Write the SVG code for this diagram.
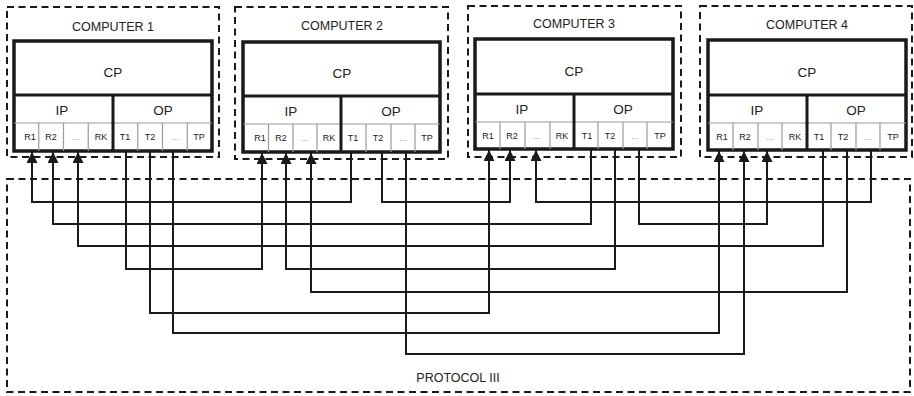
<svg xmlns="http://www.w3.org/2000/svg" width="914" height="396" viewBox="0 0 914 396">
<style>
.dash{fill:none;stroke:#1a1a1a;stroke-width:2;stroke-dasharray:7 4.5}
.outer{fill:#fff;stroke:#1a1a1a;stroke-width:3.5}
.thick{stroke:#1a1a1a;stroke-width:3}
.thin{stroke:#9a9a9a;stroke-width:1.2}
.title{font-family:"Liberation Sans",Arial,sans-serif;font-size:12.5px;fill:#222;text-anchor:middle}
.big{font-family:"Liberation Sans",Arial,sans-serif;font-size:13.5px;fill:#222;text-anchor:middle}
.cell{font-family:"Liberation Sans",Arial,sans-serif;font-size:9px;fill:#222;text-anchor:middle}
.dots{font-family:"Liberation Sans",Arial,sans-serif;font-size:9px;fill:#999;text-anchor:middle}
.conn{fill:none;stroke:#1a1a1a;stroke-width:2;stroke-linejoin:miter}
</style>
<defs>
<marker id="arr" viewBox="0 0 12 12" refX="12" refY="6" markerWidth="12" markerHeight="11" markerUnits="userSpaceOnUse" orient="auto">
<path d="M0,0 L12,6 L0,12 z" fill="#1a1a1a"/>
</marker>
</defs>
<rect width="914" height="396" fill="#fff"/>

<g id="protocol">
<rect class="dash" x="7" y="179" width="903" height="213"/>
<text class="title" x="458" y="382">PROTOCOL III</text>
</g>

<g id="computer1">
<rect class="dash" x="7" y="7" width="212" height="150"/>
<text class="title" x="113" y="31">COMPUTER 1</text>
<rect class="outer" x="14" y="41" width="198" height="110"/>
<line class="thin" x1="14" y1="123" x2="212" y2="123"/>
<line class="thin" x1="38.75" y1="123" x2="38.75" y2="151"/>
<line class="thin" x1="63.5" y1="123" x2="63.5" y2="151"/>
<line class="thin" x1="88.25" y1="123" x2="88.25" y2="151"/>
<line class="thin" x1="137.75" y1="123" x2="137.75" y2="151"/>
<line class="thin" x1="162.5" y1="123" x2="162.5" y2="151"/>
<line class="thin" x1="187.25" y1="123" x2="187.25" y2="151"/>
<line class="thick" x1="14" y1="95" x2="212" y2="95"/>
<line class="thick" x1="113" y1="95" x2="113" y2="151"/>
<text class="big" x="113" y="77">CP</text>
<text class="big" x="62" y="115">IP</text>
<text class="big" x="163" y="115">OP</text>
<text class="cell" x="30" y="140">R1</text>
<text class="cell" x="51" y="140">R2</text>
<text class="dots" x="76" y="140">...</text>
<text class="cell" x="101" y="140">RK</text>
<text class="cell" x="125" y="140">T1</text>
<text class="cell" x="150" y="140">T2</text>
<text class="dots" x="175" y="140">...</text>
<text class="cell" x="199" y="140">TP</text>
</g>

<g id="computer2">
<rect class="dash" x="235" y="7" width="213" height="152"/>
<text class="title" x="342" y="30">COMPUTER 2</text>
<rect class="outer" x="243" y="42" width="197" height="110"/>
<line class="thin" x1="243" y1="124" x2="440" y2="124"/>
<line class="thin" x1="268.5" y1="124" x2="268.5" y2="152"/>
<line class="thin" x1="293" y1="124" x2="293" y2="152"/>
<line class="thin" x1="317" y1="124" x2="317" y2="152"/>
<line class="thin" x1="366" y1="124" x2="366" y2="152"/>
<line class="thin" x1="391" y1="124" x2="391" y2="152"/>
<line class="thin" x1="415" y1="124" x2="415" y2="152"/>
<line class="thick" x1="243" y1="96" x2="440" y2="96"/>
<line class="thick" x1="341" y1="96" x2="341" y2="152"/>
<text class="big" x="342" y="78">CP</text>
<text class="big" x="291" y="116">IP</text>
<text class="big" x="391" y="116">OP</text>
<text class="cell" x="260" y="141">R1</text>
<text class="cell" x="281" y="141">R2</text>
<text class="dots" x="305" y="141">...</text>
<text class="cell" x="329" y="141">RK</text>
<text class="cell" x="353" y="141">T1</text>
<text class="cell" x="378" y="141">T2</text>
<text class="dots" x="403" y="141">...</text>
<text class="cell" x="427" y="141">TP</text>
</g>

<g id="computer3">
<rect class="dash" x="468" y="6" width="213" height="151"/>
<text class="title" x="574" y="28">COMPUTER 3</text>
<rect class="outer" x="475" y="39" width="198" height="110"/>
<line class="thin" x1="475" y1="122" x2="673" y2="122"/>
<line class="thin" x1="500" y1="122" x2="500" y2="149"/>
<line class="thin" x1="525" y1="122" x2="525" y2="149"/>
<line class="thin" x1="550" y1="122" x2="550" y2="149"/>
<line class="thin" x1="598" y1="122" x2="598" y2="149"/>
<line class="thin" x1="623" y1="122" x2="623" y2="149"/>
<line class="thin" x1="647" y1="122" x2="647" y2="149"/>
<line class="thick" x1="475" y1="94" x2="673" y2="94"/>
<line class="thick" x1="574" y1="94" x2="574" y2="149"/>
<text class="big" x="574" y="76">CP</text>
<text class="big" x="522" y="114">IP</text>
<text class="big" x="623" y="114">OP</text>
<text class="cell" x="488" y="139">R1</text>
<text class="cell" x="512" y="139">R2</text>
<text class="dots" x="537" y="139">...</text>
<text class="cell" x="562" y="139">RK</text>
<text class="cell" x="587" y="139">T1</text>
<text class="cell" x="610" y="139">T2</text>
<text class="dots" x="635" y="139">...</text>
<text class="cell" x="660" y="139">TP</text>
</g>

<g id="computer4">
<rect class="dash" x="700" y="6" width="212" height="151"/>
<text class="title" x="807" y="29">COMPUTER 4</text>
<rect class="outer" x="708" y="40" width="198" height="110"/>
<line class="thin" x1="708" y1="123" x2="906" y2="123"/>
<line class="thin" x1="733" y1="123" x2="733" y2="150"/>
<line class="thin" x1="758" y1="123" x2="758" y2="150"/>
<line class="thin" x1="782" y1="123" x2="782" y2="150"/>
<line class="thin" x1="831" y1="123" x2="831" y2="150"/>
<line class="thin" x1="856" y1="123" x2="856" y2="150"/>
<line class="thin" x1="880" y1="123" x2="880" y2="150"/>
<line class="thick" x1="708" y1="95" x2="906" y2="95"/>
<line class="thick" x1="807" y1="95" x2="807" y2="150"/>
<text class="big" x="807" y="77">CP</text>
<text class="big" x="757" y="115">IP</text>
<text class="big" x="856" y="115">OP</text>
<text class="cell" x="722" y="140">R1</text>
<text class="cell" x="745" y="140">R2</text>
<text class="dots" x="770" y="140">...</text>
<text class="cell" x="795" y="140">RK</text>
<text class="cell" x="819" y="140">T1</text>
<text class="cell" x="843" y="140">T2</text>
<text class="dots" x="868" y="140">...</text>
<text class="cell" x="893" y="140">TP</text>
</g>

<g id="connectors">
<path class="conn" marker-end="url(#arr)" d="M351,152 V202 H32 V152"/>
<path class="conn" marker-end="url(#arr)" d="M591,149 V224 H53 V152"/>
<path class="conn" marker-end="url(#arr)" d="M823,150 V246 H78 V152"/>
<path class="conn" marker-end="url(#arr)" d="M126,151 V269 H262 V153"/>
<path class="conn" marker-end="url(#arr)" d="M615,149 V269 H286 V153"/>
<path class="conn" marker-end="url(#arr)" d="M847,150 V292 H311 V153"/>
<path class="conn" marker-end="url(#arr)" d="M150,151 V313 H489 V150"/>
<path class="conn" marker-end="url(#arr)" d="M382,152 V202 H510 V150"/>
<path class="conn" marker-end="url(#arr)" d="M871,150 V202 H536 V150"/>
<path class="conn" marker-end="url(#arr)" d="M173,151 V333 H719 V151"/>
<path class="conn" marker-end="url(#arr)" d="M406,152 V354 H744 V151"/>
<path class="conn" marker-end="url(#arr)" d="M639,149 V224 H767 V151"/>
</g>
</svg>
